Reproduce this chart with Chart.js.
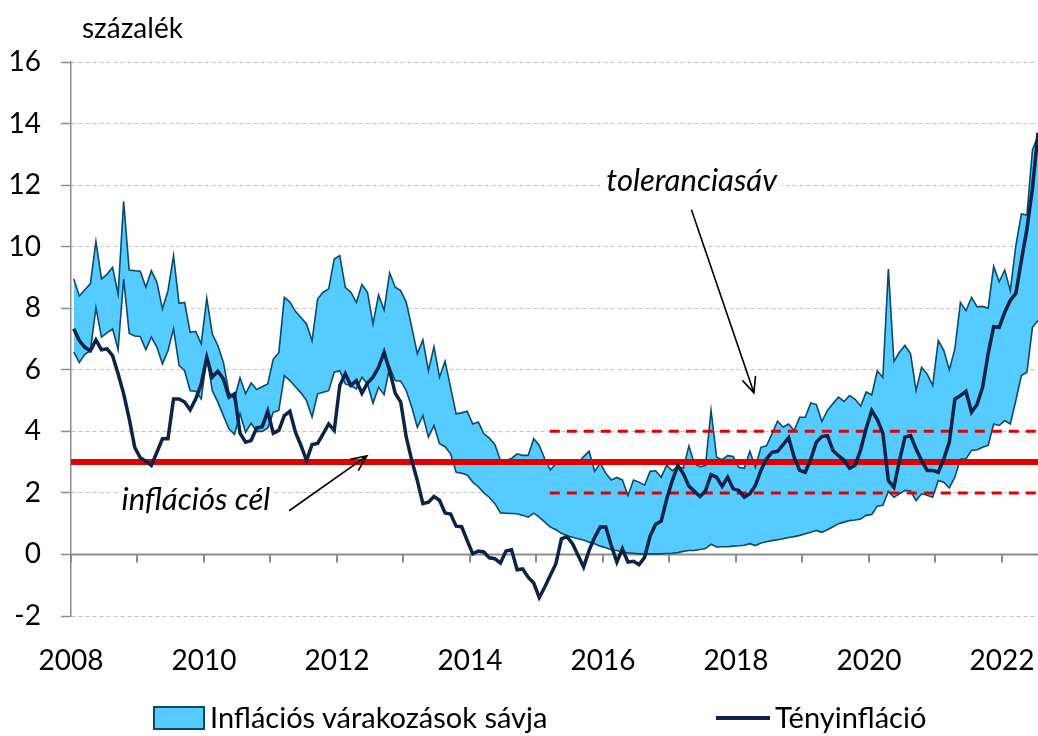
<!DOCTYPE html>
<html>
<head>
<meta charset="utf-8">
<script src="https://cdn.jsdelivr.net/npm/chart.js@4.4.0/dist/chart.umd.min.js"></script>
<style>
  body { margin: 0; background: #fff; font-family: Lato, sans-serif; }
  #wrap { position: relative; width: 1038px; height: 736px; }
  #unit { position: absolute; left: 82px; top: 10px; font-size: 28px; color: #000; }
  .leg { position: absolute; top: 699px; font-size: 29px; color: #000; white-space: nowrap; }
  .leg .box { display: inline-block; width: 48px; height: 20px; background: #55cbff; border: 2px solid #0b4a6b; vertical-align: -2px; margin-right: 5px; }
  .leg .ln { display: inline-block; width: 54px; height: 4px; background: #0d2247; vertical-align: 8px; margin-right: 5px; }
</style>
</head>
<body>
<div id="wrap">
  <canvas id="myChart" width="1038" height="736"></canvas>
  <div id="unit">százalék</div>
  <div class="leg" style="left:153px"><span class="box"></span>Inflációs várakozások sávja</div>
  <div class="leg" style="left:716px"><span class="ln"></span>Tényinfláció</div>
</div>
<script>
// monthly data, Jan 2008 - Jul 2022
const startYear = 2008;
const xTickYears = [2008, 2010, 2012, 2014, 2016, 2018, 2020, 2022];
const yTicks = [-2, 0, 2, 4, 6, 8, 10, 12, 14, 16];
const inflationTarget = 3;
const toleranceBand = [2, 4];
const toleranceStart = 2015.2;

// inflációs várakozások sávja - felső szél
const bandUpper = [8.95, 8.4, 8.6, 8.8, 10.17, 8.95, 9.1, 9.33, 8.46, 11.47,
  9.24, 9.22, 9.2, 8.68, 9.22, 8.84, 7.98, 8.57, 9.71, 8.16,
  8.19, 7.22, 7.25, 6.84, 8.33, 7.16, 6.79, 6.24, 5.27, 5.05,
  5.74, 5.22, 5.57, 5.36, 5.45, 5.54, 6.35, 6.55, 8.35, 8.2,
  7.9, 7.7, 7.49, 6.94, 8.3, 8.52, 8.63, 9.6, 9.71, 8.68,
  8.52, 8.19, 8.77, 8.52, 7.49, 8.43, 7.94, 9.15, 8.68, 8.57,
  8.19, 7.38, 6.52, 6.97, 5.97, 6.75, 5.76, 6.28, 5.43, 4.57,
  4.6, 4.65, 4.24, 4.3, 3.92, 3.78, 3.57, 3.05, 3.06, 3.12,
  3.27, 3.22, 3.22, 3.76, 3.54, 3.1, 2.75, 2.95, 3.0, 3.0,
  3.05, 2.97, 3.18, 3.35, 2.7, 2.97, 2.64, 2.42, 2.5, 2.42,
  1.91, 2.42, 2.35, 2.25, 2.7, 2.72, 2.51, 2.9, 2.72, 2.85,
  2.8, 3.52, 2.95, 2.85, 2.89, 4.68, 3.16, 3.08, 3.21, 3.18,
  2.83, 2.8, 3.35, 2.83, 3.48, 3.53, 3.92, 4.33, 4.14, 4.24,
  4.03, 4.46, 4.46, 4.92, 4.87, 4.32, 4.68, 4.9, 5.11, 4.97,
  5.16, 5.04, 4.82, 5.28, 5.18, 5.97, 5.75, 9.27, 6.27, 6.57,
  6.79, 6.52, 5.32, 6.08, 5.86, 5.49, 6.95, 6.63, 6.0, 6.68,
  8.19, 7.92, 8.35, 8.05, 8.06, 8.0, 9.36, 8.86, 9.24, 8.57,
  10.03, 11.06, 11.03, 13.14, 13.6];

// alsó szél
const bandLower = [6.57, 6.24, 6.5, 6.62, 8.01, 7.06, 7.2, 7.33, 6.65, 8.95,
  7.19, 7.1, 7.08, 6.65, 7.06, 6.74, 6.19, 6.62, 7.33, 6.14,
  5.97, 5.32, 5.3, 5.05, 6.4, 5.32, 4.95, 4.51, 4.08, 3.9,
  4.57, 3.97, 4.26, 4.0, 4.0, 4.1, 4.62, 4.68, 5.81, 5.65,
  5.45, 5.25, 5.0, 4.46, 5.22, 5.27, 5.32, 5.92, 5.97, 5.54,
  5.48, 5.38, 5.76, 5.54, 4.91, 5.43, 5.19, 6.08, 5.65, 5.63,
  5.32, 4.78, 4.13, 4.51, 3.81, 4.19, 3.6, 3.5, 3.27, 2.67,
  2.64, 2.58, 2.35, 2.2, 2.0, 1.85, 1.65, 1.35, 1.34, 1.33,
  1.32, 1.27, 1.21, 1.34, 1.21, 1.05, 0.89, 0.8, 0.69, 0.61,
  0.56, 0.51, 0.47, 0.4, 0.35, 0.27, 0.22, 0.15, 0.13, 0.08,
  0.05, 0.04, 0.02, 0.02, 0.02, 0.02, 0.02, 0.03, 0.04, 0.06,
  0.1, 0.13, 0.13, 0.16, 0.19, 0.33, 0.24, 0.25, 0.25, 0.27,
  0.28, 0.3, 0.35, 0.29, 0.37, 0.41, 0.45, 0.48, 0.51, 0.55,
  0.58, 0.62, 0.67, 0.72, 0.78, 0.72, 0.8, 0.9, 1.0, 1.05,
  1.1, 1.12, 1.15, 1.27, 1.3, 1.57, 1.6, 2.05, 1.86, 1.97,
  2.08, 2.06, 1.75, 1.97, 1.92, 1.86, 2.4, 2.35, 2.16, 2.51,
  3.1, 3.1, 3.38, 3.4, 3.48, 3.54, 4.24, 4.19, 4.35, 4.24,
  5.0, 5.81, 5.92, 7.38, 7.6];

// tényinfláció
const actualInflation = [7.33, 6.95, 6.73, 6.62, 6.97, 6.65, 6.68, 6.46, 5.87, 5.22,
  4.41, 3.48, 3.14, 3.03, 2.89, 3.32, 3.76, 3.76, 5.05, 5.05,
  4.95, 4.7, 5.05, 5.54, 6.4, 5.76, 5.95, 5.7, 5.11, 5.22,
  3.94, 3.65, 3.7, 4.11, 4.15, 4.65, 3.94, 4.03, 4.51, 4.65,
  3.97, 3.54, 3.05, 3.57, 3.61, 3.92, 4.24, 4.03, 5.49, 5.87,
  5.49, 5.65, 5.24, 5.57, 5.76, 6.08, 6.57, 5.97, 5.24, 4.95,
  3.81, 3.05, 2.4, 1.65, 1.7, 1.88, 1.76, 1.35, 1.31, 0.92,
  0.9, 0.45, 0.02, 0.11, 0.08, -0.11, -0.14, -0.28, 0.11, 0.15,
  -0.5, -0.47, -0.74, -0.93, -1.4, -1.06, -0.68, -0.3, 0.51, 0.58,
  0.35, -0.03, -0.41, 0.13, 0.56, 0.89, 0.89, 0.29, -0.25, 0.18,
  -0.25, -0.22, -0.33, -0.1, 0.6, 0.98, 1.08, 1.8, 2.4, 2.89,
  2.62, 2.22, 2.05, 1.88, 2.07, 2.59, 2.51, 2.21, 2.51, 2.13,
  2.08, 1.86, 1.97, 2.24, 2.73, 3.1, 3.32, 3.35, 3.57, 3.79,
  3.16, 2.73, 2.67, 3.1, 3.65, 3.83, 3.86, 3.38, 3.21, 3.06,
  2.8, 2.9, 3.4, 4.1, 4.68, 4.38, 3.95, 2.4, 2.18, 3.05,
  3.81, 3.86, 3.43, 3.05, 2.73, 2.73, 2.67, 3.1, 3.65, 5.05,
  5.16, 5.3, 4.62, 4.87, 5.43, 6.52, 7.4, 7.38, 7.87, 8.25,
  8.48, 9.55, 10.57, 11.9, 13.7];

const monthX = i => startYear + (i + 0.5) / 12;
const xMax = monthX(actualInflation.length - 1);
const toPoints = arr => arr.map((v, i) => ({ x: monthX(i), y: v }));

const FONT = 'Lato';

// zero axis line + yearly tick marks, drawn under the data
const zeroAxis = {
  id: 'zeroAxis',
  beforeDatasetsDraw(chart) {
    const { ctx, chartArea, scales: { x, y } } = chart;
    const y0 = y.getPixelForValue(0);
    ctx.save();
    ctx.strokeStyle = '#8c8c8c';
    ctx.lineWidth = 2;
    ctx.beginPath();
    ctx.moveTo(chartArea.left, y0);
    ctx.lineTo(chartArea.right, y0);
    for (let yr = startYear; yr <= 2022; yr++) {
      const px = Math.round(x.getPixelForValue(yr));
      ctx.moveTo(px, y0);
      ctx.lineTo(px, y0 + 8);
    }
    ctx.stroke();
    ctx.restore();
  }
};

function arrow(ctx, x1, y1, x2, y2) {
  const a = Math.atan2(y2 - y1, x2 - x1);
  const h = 17, s = 0.42;
  ctx.beginPath();
  ctx.moveTo(x1, y1);
  ctx.lineTo(x2, y2);
  ctx.moveTo(x2 - h * Math.cos(a - s), y2 - h * Math.sin(a - s));
  ctx.lineTo(x2, y2);
  ctx.lineTo(x2 - h * Math.cos(a + s), y2 - h * Math.sin(a + s));
  ctx.stroke();
}

// annotations: szöveg + nyíl
const notes = [
  { text: 'toleranciasáv', x: 2016.05, y: 11.8, from: [2017.33, 11.2], to: [2018.27, 5.25] },
  { text: 'inflációs cél', x: 2008.76, y: 1.45, from: [2011.28, 1.42], to: [2012.45, 3.2] }
];

const annotations = {
  id: 'annotations',
  afterDatasetsDraw(chart) {
    const { ctx, scales: { x, y } } = chart;
    ctx.save();
    ctx.font = `italic 31px ${FONT}`;
    ctx.textBaseline = 'alphabetic';
    notes.forEach(n => {
      const tx = x.getPixelForValue(n.x), ty = y.getPixelForValue(n.y);
      const w = ctx.measureText(n.text).width;
      ctx.fillStyle = '#fff';
      ctx.fillRect(tx - 3, ty - 27, w + 6, 33);
      ctx.fillStyle = '#000';
      ctx.fillText(n.text, tx, ty);
      ctx.strokeStyle = '#000';
      ctx.lineWidth = 1.6;
      arrow(ctx, x.getPixelForValue(n.from[0]), y.getPixelForValue(n.from[1]),
        x.getPixelForValue(n.to[0]), y.getPixelForValue(n.to[1]));
    });
    ctx.restore();
  }
};

const ctx = document.getElementById('myChart').getContext('2d');
const chart = new Chart(ctx, {
  type: 'line',
  data: {
    datasets: [
      {
        label: 'Tényinfláció',
        data: toPoints(actualInflation),
        borderColor: '#0d2247',
        borderWidth: 3.5,
        pointRadius: 0,
        order: 0
      },
      {
        label: 'cél',
        data: [{ x: startYear, y: inflationTarget }, { x: xMax, y: inflationTarget }],
        borderColor: '#e00000',
        borderWidth: 6,
        pointRadius: 0,
        order: 1
      },
      {
        label: 'tolerancia alsó',
        data: [{ x: toleranceStart, y: toleranceBand[0] }, { x: xMax, y: toleranceBand[0] }],
        borderColor: '#e00000',
        borderWidth: 3,
        borderDash: [10, 7],
        pointRadius: 0,
        order: 1
      },
      {
        label: 'tolerancia felső',
        data: [{ x: toleranceStart, y: toleranceBand[1] }, { x: xMax, y: toleranceBand[1] }],
        borderColor: '#e00000',
        borderWidth: 3,
        borderDash: [10, 7],
        pointRadius: 0,
        order: 1
      },
      {
        label: 'sáv alsó',
        data: toPoints(bandLower),
        borderColor: '#0b4a6b',
        borderWidth: 1.6,
        pointRadius: 0,
        fill: false,
        order: 2
      },
      {
        label: 'Inflációs várakozások sávja',
        data: toPoints(bandUpper),
        borderColor: '#0b4a6b',
        borderWidth: 1.6,
        backgroundColor: '#55cbff',
        pointRadius: 0,
        fill: '-1',
        order: 2
      }
    ]
  },
  options: {
    responsive: false,
    animation: false,
    layout: { padding: { top: 62, right: 0, left: 0, bottom: 0 } },
    plugins: { legend: { display: false }, tooltip: { enabled: false } },
    elements: { line: { tension: 0 } },
    scales: {
      x: {
        type: 'linear',
        min: startYear,
        max: xMax,
        afterFit: s => { s.height = 120; s.paddingLeft = 0; s.paddingRight = 0; },
        afterBuildTicks: s => { s.ticks = xTickYears.map(v => ({ value: v })); },
        ticks: {
          font: { family: FONT, size: 28 },
          color: '#000',
          padding: 20,
          maxRotation: 0,
          autoSkip: false,
          callback: v => String(v)
        },
        grid: { display: false },
        border: { display: false }
      },
      y: {
        min: -2,
        max: 16,
        afterFit: s => { s.width = 71; s.paddingTop = 0; s.paddingBottom = 0; },
        afterBuildTicks: s => { s.ticks = yTicks.map(v => ({ value: v })); },
        ticks: {
          font: { family: FONT, size: 28 },
          color: '#000',
          padding: 20,
          callback: v => String(v)
        },
        grid: {
          color: c => (c.tick && c.tick.value === 0 ? 'rgba(0,0,0,0)' : '#c3c3c3'),
          lineWidth: 1,
          tickColor: '#8c8c8c',
          tickLength: 10,
          tickWidth: 1.5,
          tickBorderDash: []
        },
        border: { color: '#8c8c8c', width: 1.5, dash: [4, 3] }
      }
    }
  },
  plugins: [zeroAxis, annotations]
});
</script>
</body>
</html>
